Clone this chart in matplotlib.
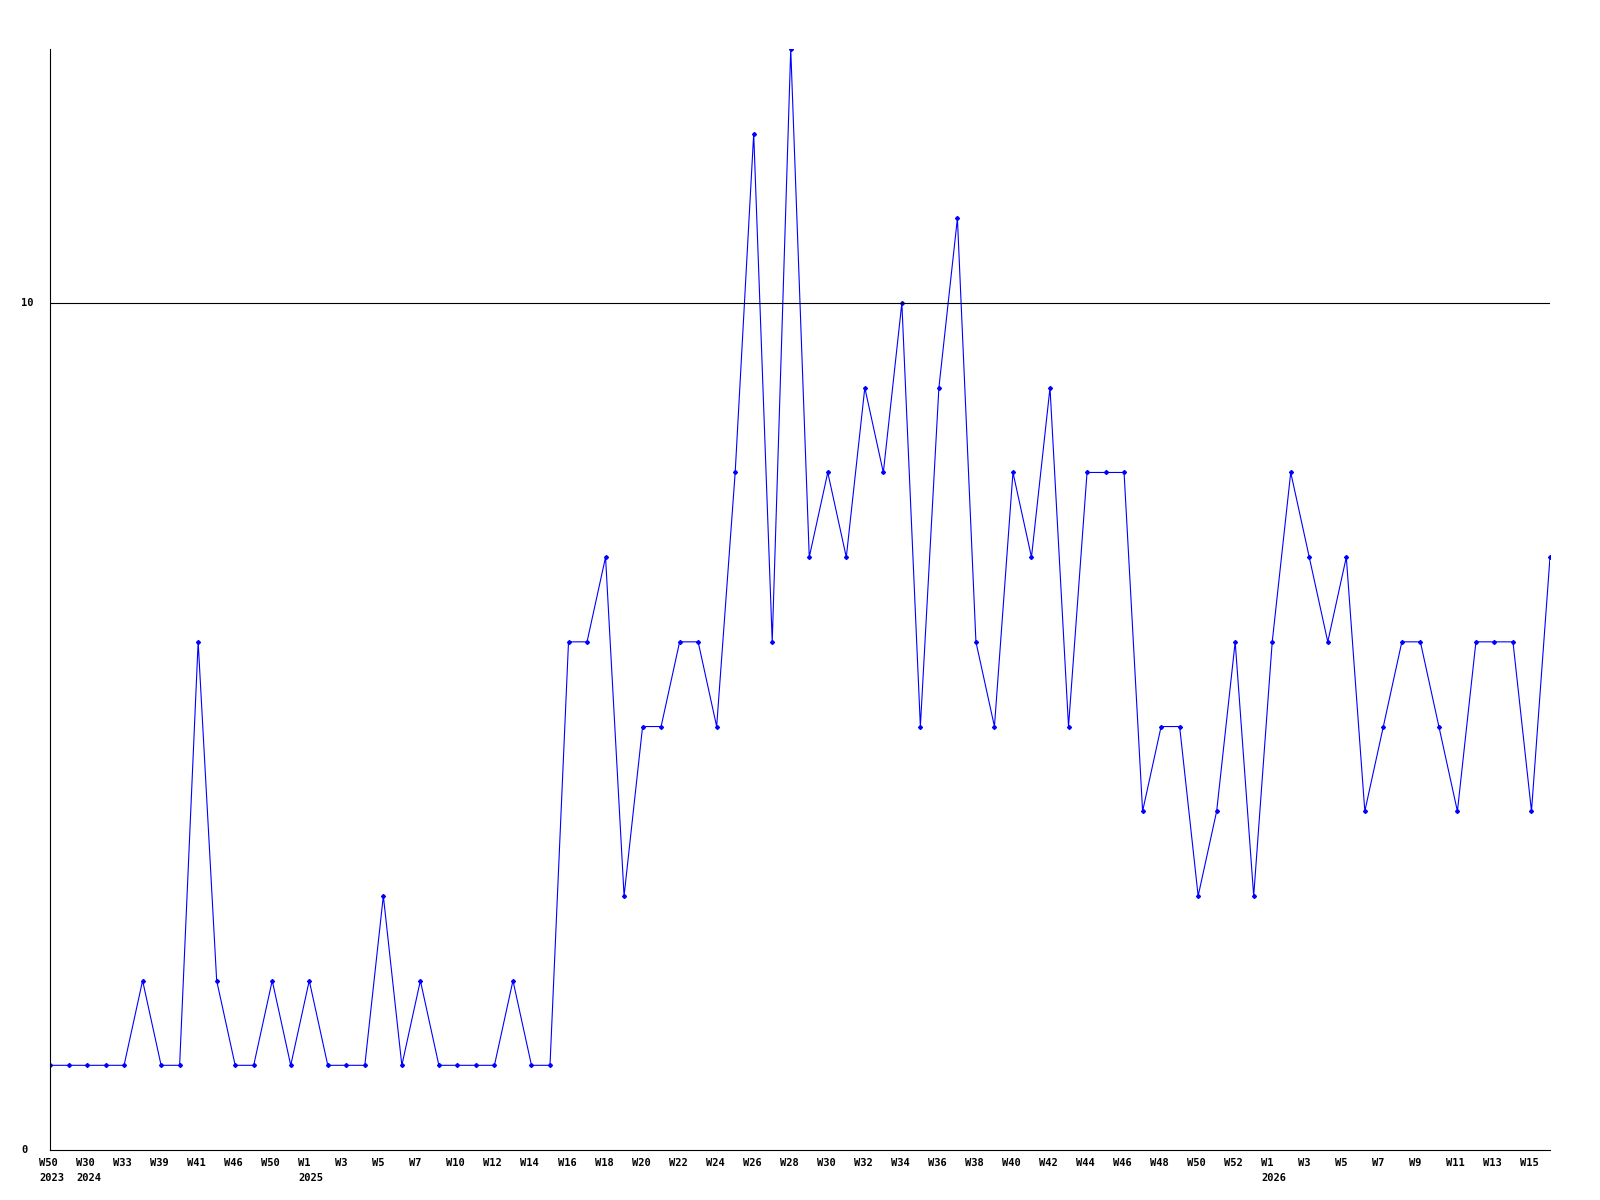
import matplotlib
matplotlib.use("Agg")
import matplotlib.pyplot as plt

# weekly values, one per point
values = [1, 1, 1, 1, 1, 2, 1, 1, 6, 2,
          1, 1, 2, 1, 2, 1, 1, 1, 3, 1,
          2, 1, 1, 1, 1, 2, 1, 1, 6, 6,
          7, 3, 5, 5, 6, 6, 5, 8, 12, 6,
          13, 7, 8, 7, 9, 8, 10, 5, 9, 11,
          6, 5, 8, 7, 9, 5, 8, 8, 8, 4,
          5, 5, 3, 4, 6, 3, 6, 8, 7, 6,
          7, 4, 5, 6, 6, 5, 4, 6, 6, 6,
          4, 7]

# labels on every second point
week_labels = ["W50", "W30", "W33", "W39", "W41", "W46", "W50", "W1", "W3", "W5",
               "W7", "W10", "W12", "W14", "W16", "W18", "W20", "W22", "W24", "W26",
               "W28", "W30", "W32", "W34", "W36", "W38", "W40", "W42", "W44", "W46",
               "W48", "W50", "W52", "W1", "W3", "W5", "W7", "W9", "W11", "W13",
               "W15"]
year_labels = {0: "2023", 1: "2024", 7: "2025", 33: "2026"}
y_ticks = [0, 10]

font = dict(family="DejaVu Sans Mono", weight="bold", size=7.5)

fig = plt.figure(figsize=(16, 12), dpi=100)
ax = fig.add_axes([50 / 1600, 1 - 1150 / 1200, 1500 / 1600, 1101 / 1200])

x = list(range(len(values)))
ax.plot(x, values, color="#0000ff", lw=0.8, marker="D", ms=2,
        mec="#0000ff", mfc="#0000ff")
ax.axhline(10, color="black", lw=0.8)

ax.set_xlim(0, len(values) - 1)
ax.set_ylim(0, 13)
for s in ["top", "right"]:
    ax.spines[s].set_visible(False)
for s in ["left", "bottom"]:
    ax.spines[s].set_linewidth(0.8)
ax.set_xticks([])
ax.set_yticks([])

for i, lab in enumerate(week_labels):
    ax.annotate(lab, xy=(2 * i, 0), xycoords=("data", "axes fraction"),
                xytext=(-11, -8), textcoords="offset pixels",
                ha="left", va="top", **font)
    if i in year_labels:
        ax.annotate(year_labels[i], xy=(2 * i, 0), xycoords=("data", "axes fraction"),
                    xytext=(-11, -23), textcoords="offset pixels",
                    ha="left", va="top", **font)

for v in y_ticks:
    ax.annotate(str(v), xy=(0, v), xycoords=("axes fraction", "data"),
                xytext=(-29, 0), textcoords="offset pixels",
                ha="left", va="center", **font)

fig.savefig("out.png")
